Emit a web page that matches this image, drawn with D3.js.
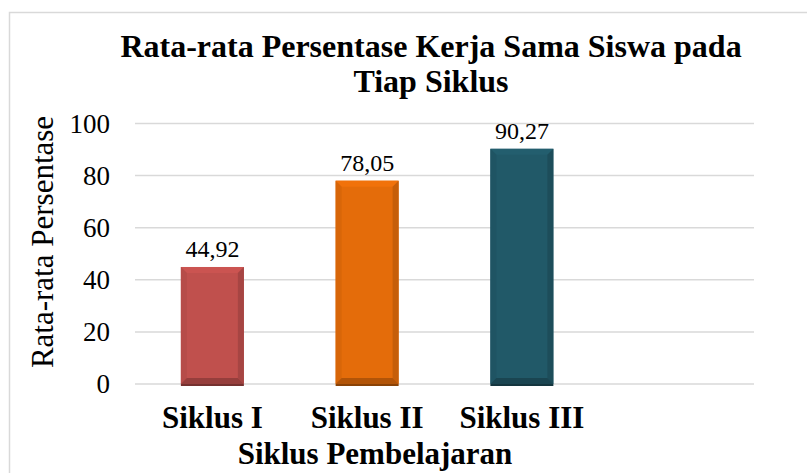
<!DOCTYPE html>
<html>
<head>
<meta charset="utf-8">
<script src="https://cdn.jsdelivr.net/npm/d3@7"></script>
<style>
	body { margin: 0; background: #fff; }
	text { font-family: "Liberation Serif", "Times New Roman", serif; fill: #000; }
</style>
</head>
<body>
<div id="viz"></div>
<script>
// chart data
var categories = ["Siklus I", "Siklus II", "Siklus III", ""];
var values = [44.92, 78.05, 90.27];
var valueLabels = ["44,92", "78,05", "90,27"];
var barColors = ["#C0504D", "#E46C0A", "#215968"];
var yTicks = [0, 20, 40, 60, 80, 100];
var titleLines = ["Rata-rata Persentase Kerja Sama Siswa pada", "Tiap Siklus"];
var yTitle = "Rata-rata Persentase";
var xTitle = "Siklus Pembelajaran";

var WIDTH = 807;
var HEIGHT = 473;
var BEVEL = 6;

var svg = d3.select("#viz").append("svg")
	.attr("width", WIDTH)
	.attr("height", HEIGHT);

svg.append("rect")
	.attr("width", WIDTH).attr("height", HEIGHT)
	.attr("fill", "#fff");

// chart area border (runs off the right / bottom)
svg.append("rect")
	.attr("x", 9.5).attr("y", 12.5)
	.attr("width", 820).attr("height", 500)
	.attr("fill", "none")
	.attr("stroke", "#D9D9D9")
	.attr("stroke-width", 1.5);

var x = d3.scaleBand()
	.domain(categories)
	.range([135, 754])
	.padding(0);

var y = d3.scaleLinear()
	.domain([0, 100])
	.range([384, 123.5]);

// gridlines
svg.append("g").selectAll("line")
	.data(yTicks)
	.enter().append("line")
	.attr("x1", 135).attr("x2", 754)
	.attr("y1", function(d) { return y(d); })
	.attr("y2", function(d) { return y(d); })
	.attr("stroke", "#D9D9D9")
	.attr("stroke-width", 1.5);

// tick labels
svg.append("g").selectAll("text")
	.data(yTicks)
	.enter().append("text")
	.attr("x", 110)
	.attr("y", function(d) { return y(d) + 9; })
	.attr("text-anchor", "end")
	.attr("font-size", 27)
	.text(function(d) { return d; });

// bars, with a bevel frame
var barW = x.bandwidth() * 0.407;

values.forEach(function(v, i) {
	var c = d3.color(barColors[i]);
	var x0 = x(categories[i]) + (x.bandwidth() - barW) / 2;
	var x1 = x0 + barW;
	var y0 = y(v);
	var y1 = y(0);
	var b = BEVEL;
	var g = svg.append("g");

	g.append("rect")
		.attr("x", x0).attr("y", y0)
		.attr("width", barW).attr("height", y1 - y0)
		.attr("fill", c.formatHex());

	var pts = function(arr) {
		return arr.map(function(p) { return p[0] + "," + p[1]; }).join(" ");
	};

	// top edge
	g.append("polygon")
		.attr("points", pts([[x0, y0], [x1, y0], [x1 - b, y0 + b], [x0 + b, y0 + b]]))
		.attr("fill", c.brighter(0.15).formatHex());
	// left edge
	g.append("polygon")
		.attr("points", pts([[x0, y0], [x0 + b, y0 + b], [x0 + b, y1 - b], [x0, y1]]))
		.attr("fill", c.darker(0.15).formatHex());
	// right edge
	g.append("polygon")
		.attr("points", pts([[x1, y0], [x1, y1], [x1 - b, y1 - b], [x1 - b, y0 + b]]))
		.attr("fill", c.darker(0.4).formatHex());
	// bottom edge
	g.append("polygon")
		.attr("points", pts([[x0, y1], [x1, y1], [x1 - b, y1 - b], [x0 + b, y1 - b]]))
		.attr("fill", c.darker(0.7).formatHex());

	// thin shadow under the bar
	g.append("rect")
		.attr("x", x0).attr("y", y1)
		.attr("width", barW).attr("height", 2)
		.attr("fill", c.darker(1.4).formatHex());

	svg.append("text")
		.attr("x", (x0 + x1) / 2)
		.attr("y", y0 - 10)
		.attr("text-anchor", "middle")
		.attr("font-size", 24)
		.text(valueLabels[i]);
});

// category labels
svg.append("g").selectAll("text")
	.data(categories.filter(function(d) { return d.length > 0; }))
	.enter().append("text")
	.attr("x", function(d) { return x(d) + x.bandwidth() / 2; })
	.attr("y", 428)
	.attr("text-anchor", "middle")
	.attr("font-size", 31)
	.attr("font-weight", "bold")
	.text(function(d) { return d; });

// titles
svg.append("g").selectAll("text")
	.data(titleLines)
	.enter().append("text")
	.attr("x", 431)
	.attr("y", function(d, i) { return 57 + i * 35; })
	.attr("text-anchor", "middle")
	.attr("font-size", 32)
	.attr("font-weight", "bold")
	.text(function(d) { return d; });

svg.append("text")
	.attr("x", 375)
	.attr("y", 464)
	.attr("text-anchor", "middle")
	.attr("font-size", 31)
	.attr("font-weight", "bold")
	.text(xTitle);

svg.append("text")
	.attr("transform", "translate(53,242) rotate(-90)")
	.attr("text-anchor", "middle")
	.attr("font-size", 31)
	.text(yTitle);
</script>
</body>
</html>
